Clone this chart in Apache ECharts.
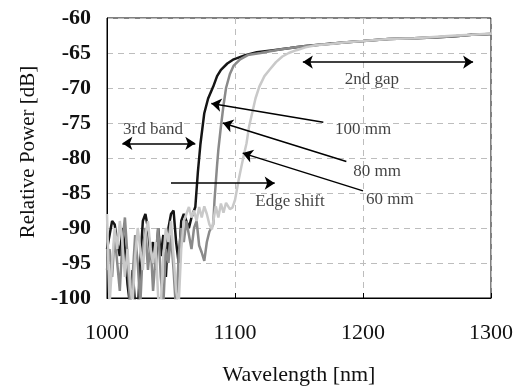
<!DOCTYPE html>
<html>
<head>
<meta charset="utf-8">
<script src="https://cdn.jsdelivr.net/npm/echarts@6/dist/echarts.min.js"></script>
<style>
  html, body { margin: 0; padding: 0; background: #fff; }
  #chart { width: 516px; height: 391px; }
</style>
</head>
<body>
<div id="chart"></div>
<script>
// 100 mm sample
const wl100 = [1000, 1002, 1004, 1006, 1008, 1010, 1012, 1014, 1016, 1018, 1020, 1022, 1024, 1026, 1028, 1030,
  1032, 1034, 1036, 1038, 1040, 1042, 1044, 1046, 1048, 1050, 1052, 1054, 1056, 1058, 1060, 1062, 1064, 1066,
  1068, 1069, 1071, 1073, 1076, 1079, 1083, 1086, 1089, 1094, 1099, 1108, 1117, 1130, 1143, 1155, 1168, 1185,
  1200, 1220, 1240, 1255, 1272, 1285, 1300];
const p100 = [-93, -91, -89, -89.5, -92, -94, -90, -93, -98, -101, -96, -101, -102, -95, -89, -88,
  -90, -94, -92, -96, -90, -94, -91, -97, -90, -88, -87.5, -92, -95, -89, -88, -89, -90, -88.5,
  -87.5, -87, -82, -78, -73.6, -71.5, -69.8, -68.3, -67.4, -66.5, -65.9, -65.3, -64.9, -64.6, -64.3, -64.0, -63.8, -63.5,
  -63.3, -63.0, -62.9, -62.8, -62.6, -62.4, -62.3];

// 80 mm sample
const wl80 = [1000, 1002, 1004, 1006, 1008, 1010, 1012, 1014, 1016, 1018, 1020, 1022, 1024, 1026, 1028, 1030,
  1032, 1034, 1036, 1038, 1040, 1042, 1044, 1046, 1048, 1050, 1052, 1054, 1056, 1058, 1060, 1062, 1064, 1066,
  1068, 1070, 1072, 1074, 1076, 1078, 1080, 1083, 1084, 1086, 1087, 1089, 1091, 1093, 1096, 1099, 1104, 1110,
  1120, 1135, 1150, 1168, 1185, 1200, 1220, 1240, 1255, 1272, 1285, 1300];
const p80 = [-96, -93, -97, -91, -95, -99, -92, -88.5, -94, -101, -97, -91, -95, -101, -93, -90,
  -96, -92, -99, -94, -90, -97, -101, -93, -95, -91, -96, -102, -94, -90, -92, -89, -91, -93,
  -90, -89, -92.5, -93.5, -94.7, -92, -90.5, -89.5, -86, -81, -78.8, -75.5, -72.5, -70, -68, -66.8, -65.9, -65.3,
  -65.0, -64.5, -64.1, -63.8, -63.5, -63.3, -63.0, -62.9, -62.8, -62.6, -62.4, -62.3];

// 60 mm sample
const wl60 = [1000, 1002, 1004, 1006, 1008, 1010, 1012, 1014, 1016, 1018, 1020, 1022, 1024, 1026, 1028, 1030,
  1032, 1034, 1036, 1038, 1040, 1042, 1044, 1046, 1048, 1050, 1052, 1054, 1056, 1058, 1060, 1062, 1064, 1066,
  1068, 1070, 1072, 1074, 1076, 1078, 1080, 1082, 1084, 1085, 1087, 1089, 1091, 1093, 1096, 1098, 1100, 1101,
  1103, 1105, 1107, 1109, 1111, 1114, 1116, 1119, 1123, 1127, 1132, 1137, 1142, 1148, 1155, 1163, 1175, 1185,
  1200, 1220, 1240, 1255, 1272, 1285, 1300];
const p60 = [-88, -101, -95, -90, -93, -89, -92, -97, -93, -98, -101, -94, -90, -93, -96, -91,
  -89, -93, -95, -92, -100, -101, -94, -90, -92, -89, -94, -99, -101, -93, -89, -88, -87, -88.5,
  -87.5, -89, -87, -88.5, -86.9, -88, -89.5, -90.2, -88, -86.9, -88.5, -86.5, -87.8, -86.4, -87.3, -87.1, -86, -85,
  -83, -81.2, -79.5, -77.9, -75.5, -73.1, -71.5, -69.8, -68.3, -67.4, -66.3, -65.5, -65.0, -64.6, -64.2, -63.9, -63.7, -63.5,
  -63.3, -63.0, -62.9, -62.7, -62.5, -62.4, -62.2];

const xTicks = [1000, 1100, 1200, 1300];
const yTicks = [-100, -95, -90, -85, -80, -75, -70, -65, -60];

// annotations, in data units
const noteTexts = ["2nd gap", "3rd band", "Edge shift", "100 mm", "80 mm", "60 mm"];
const noteX = [1207, 1036, 1143, 1200, 1211, 1221];
const noteY = [-68.8, -76.0, -86.2, -76.0, -81.9, -85.9];
const doubleArrows = [[[1153, -66.3], [1286, -66.3]], [[1012, -77.9], [1069, -77.9]]];
const singleArrows = [
  [[1050, -83.6], [1131, -83.6]],
  [[1169, -74.9], [1081.5, -72.2]],
  [[1187, -80.5], [1090.5, -75.0]],
  [[1200, -84.7], [1106, -79.3]]
];

const zip = (xs, ys) => xs.map((x, i) => [x, ys[i]]);
const font = "'Liberation Serif', 'Times New Roman', serif";

const chart = echarts.init(document.getElementById("chart"));

const arrowData = [
  ...doubleArrows.map(a => [
    { coord: a[0], symbol: "arrow" },
    { coord: a[1], symbol: "arrow" }
  ]),
  ...singleArrows.map(a => [
    { coord: a[0], symbol: "none" },
    { coord: a[1], symbol: "arrow" }
  ])
];

const option = {
  animation: false,
  grid: {
    left: 107, right: 24, top: 18, bottom: 92,
    show: true, borderColor: "#000", borderWidth: 1, backgroundColor: "transparent"
  },
  xAxis: {
    type: "value",
    min: xTicks[0], max: xTicks[xTicks.length - 1], interval: 100,
    name: "Wavelength [nm]",
    nameLocation: "middle",
    nameGap: 66,
    nameTextStyle: { fontFamily: font, fontSize: 22, color: "#111" },
    axisLine: { lineStyle: { color: "#000", width: 1 } },
    axisTick: { show: true, inside: true, length: 5, lineStyle: { color: "#000" } },
    axisLabel: { fontFamily: font, fontSize: 22, color: "#111", margin: 24, formatter: v => String(v) },
    splitLine: { show: true, lineStyle: { color: "#bdbdbd", type: [6, 5], width: 1 } }
  },
  yAxis: {
    type: "value",
    min: yTicks[0], max: yTicks[yTicks.length - 1], interval: 5,
    name: "Relative Power [dB]",
    nameLocation: "middle",
    nameGap: 68,
    nameTextStyle: { fontFamily: font, fontSize: 21, color: "#111", padding: [0, 0, 0, 12] },
    axisLine: { lineStyle: { color: "#000", width: 1 } },
    axisTick: { show: false },
    axisLabel: { fontFamily: font, fontSize: 22, fontWeight: "bold", color: "#111", margin: 16, formatter: v => String(v) },
    splitLine: { show: true, lineStyle: { color: "#bdbdbd", type: [6, 5], width: 1 } }
  },
  series: [
    {
      name: "100 mm", type: "line", data: zip(wl100, p100),
      showSymbol: false, lineStyle: { color: "#151515", width: 2.5 }, clip: true,
      markLine: {
        silent: true, symbolSize: 10, animation: false,
        label: { show: false },
        lineStyle: { color: "#000", type: "solid", width: 1.5 },
        data: arrowData
      }
    },
    {
      name: "80 mm", type: "line", data: zip(wl80, p80),
      showSymbol: false, lineStyle: { color: "#8a8a8a", width: 2.5 }, clip: true
    },
    {
      name: "60 mm", type: "line", data: zip(wl60, p60),
      showSymbol: false, lineStyle: { color: "#c9c9c9", width: 2.5 }, clip: true
    },
    {
      name: "notes", type: "scatter", symbolSize: 0, silent: true,
      data: noteTexts.map((t, i) => [noteX[i], noteY[i], t]),
      label: {
        show: true, position: "inside",
        formatter: p => p.value[2],
        fontFamily: font, fontSize: 17, color: "#111"
      }
    }
  ]
};

chart.setOption(option);
window.addEventListener("resize", () => chart.resize());
</script>
</body>
</html>
